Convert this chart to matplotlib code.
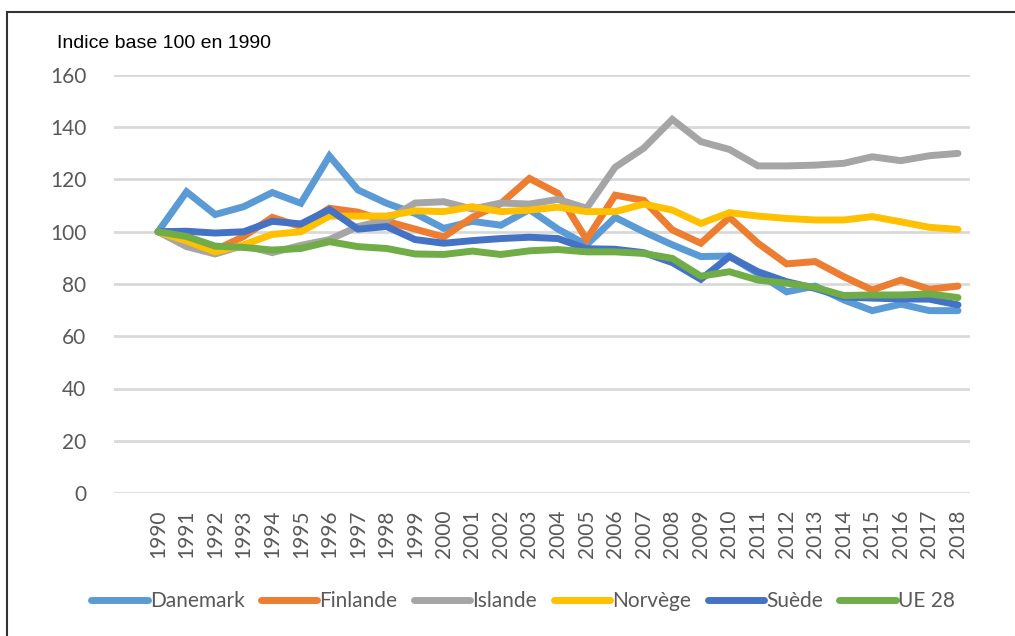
import matplotlib.pyplot as plt
from matplotlib.lines import Line2D

years = list(range(1990, 2019))

danemark = [100, 115.3, 106.6, 109.6, 115, 110.9, 129, 116, 110.9, 107,
            101.3, 104, 102.5, 108.5, 101, 95, 105.5, 100, 95, 90.5,
            90.7, 84, 77, 79.2, 73.9, 69.8, 72.3, 69.8, 69.8]
finlande = [100, 96.5, 93, 98.2, 105.5, 102, 109, 107.5, 104, 101,
            98, 105.5, 110.8, 120.4, 114.7, 97, 114, 112, 100.7, 95.6,
            105.5, 95.6, 87.7, 88.6, 82.8, 77.7, 81.5, 78, 79.2]
islande = [100, 94.3, 91.5, 94.8, 92, 94.8, 97, 102, 104.5, 111,
           111.5, 108.7, 111, 110.6, 112.4, 109, 124.7, 132, 143, 134.5,
           131.5, 125.2, 125.2, 125.5, 126.2, 128.7, 127.2, 129.1, 130]
norvege = [100, 96.5, 92.3, 95, 99, 100, 106, 106, 106, 108,
           107.7, 109.6, 107.7, 108.3, 109.4, 107.7, 107.7, 110.6, 108.3, 103.2,
           107.3, 106, 105.1, 104.5, 104.5, 105.8, 103.8, 101.7, 100.9]
suede = [100, 100.2, 99.5, 100, 104, 103, 108.5, 101, 102, 97,
         95.6, 96.6, 97.4, 97.9, 97.4, 93.5, 93.3, 92, 88.2, 81.8,
         90.5, 84.7, 80.9, 78.3, 75, 74.6, 74.3, 74.2, 72]
ue28 = [100, 98.2, 94.5, 94, 93, 93.6, 96.2, 94.3, 93.6, 91.5,
        91.3, 92.6, 91.3, 92.7, 93.2, 92.3, 92.3, 91.7, 89.8, 83,
        84.7, 81.5, 80.3, 78.7, 75.6, 75.8, 75.8, 76.2, 74.8]

series = [("Danemark", danemark, "#5B9BD5"),
          ("Finlande", finlande, "#ED7D31"),
          ("Islande", islande, "#A5A5A5"),
          ("Norvège", norvege, "#FFC000"),
          ("Suède", suede, "#4472C4"),
          ("UE 28", ue28, "#70AD47")]

plt.rcParams['font.family'] = ['Lato', 'DejaVu Sans']

fig = plt.figure(figsize=(10.15, 6.36), dpi=100)
ax = fig.add_axes([114 / 1015, 143 / 636, (970 - 114) / 1015, (493 - 75) / 636])

for name, vals, col in series:
    ax.plot(years, vals, color=col, lw=5, label=name, solid_capstyle='round',
            solid_joinstyle='miter')

ax.set_ylim(0, 160)
ax.set_yticks(range(0, 161, 20))
ax.set_xlim(1988.46, 2018.42)
ax.set_xticks(years)
ax.set_xticklabels([str(y) for y in years], rotation=90)
ax.grid(axis='y', color='#D9D9D9', lw=2)
ax.set_axisbelow(True)
for s in ax.spines.values():
    s.set_visible(False)
ax.tick_params(length=0, labelsize=15, labelcolor='#595959')
ax.tick_params(axis='y', pad=20)
ax.tick_params(axis='x', pad=12)

fig.text(57 / 1015, 1 - 43 / 636, "Indice base 100 en 1990", fontsize=14,
         family=['Liberation Sans Narrow', 'Liberation Sans', 'DejaVu Sans'],
         color='black', va='center', ha='left')

fig.legend(loc='center', bbox_to_anchor=(523 / 1015, 1 - 601 / 636), ncol=6,
           frameon=False, fontsize=15, handlelength=2.7, handletextpad=0.1,
           columnspacing=0.8, labelcolor='#595959')

# cadre noir autour du graphique
fig.add_artist(Line2D([7 / 1015, 7 / 1015], [0, 1 - 12 / 636], color='#333333', lw=1.5))
fig.add_artist(Line2D([7 / 1015, 1], [1 - 12 / 636, 1 - 12 / 636], color='#333333', lw=1.5))

fig.savefig("out.png", dpi=100)
